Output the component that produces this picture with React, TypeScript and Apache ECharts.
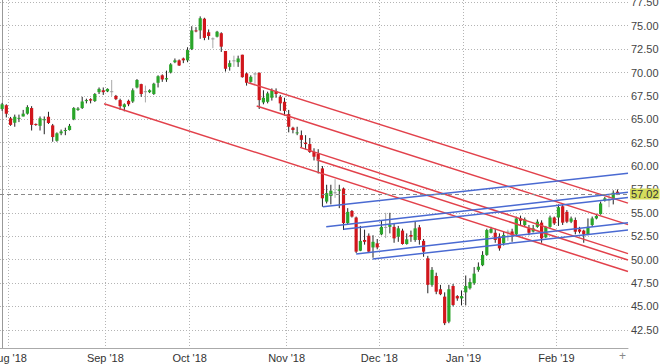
import React, { useEffect, useRef } from 'react';
import * as echarts from 'echarts';

// month labels for the x axis (first entry is the partial July period)
const monthLabels = ["Jul '18", "Aug '18", "Sep '18", "Oct '18", "Nov '18", "Dec '18", "Jan '19", "Feb '19"];

// daily candles per month: [open, close, low, high]
const jul18 = [
  [66.1, 66.6, 65.9, 66.75], [66.5, 65.6, 65.2, 66.6],
];
const aug18 = [
  [65.1, 64.4, 64.3, 65.25], [64.63, 65.27, 64.2, 65.5], [65.05, 65.15, 64.7, 65.5], [65.3, 65.6, 65.3, 66.0],
  [65.6, 66.3, 65.5, 66.5], [66.2, 64.4, 63.8, 66.4], [64.5, 64.4, 64.3, 64.55], [64.3, 65.1, 63.8, 65.3],
  [64.9, 65.0, 63.4, 65.3], [65.27, 64.6, 64.5, 65.8], [64.35, 63.1, 62.6, 64.5], [62.7, 63.5, 62.6, 63.6],
  [63.5, 63.7, 63.3, 63.9], [63.75, 63.85, 63.3, 64.1], [63.85, 64.3, 63.8, 64.5], [65.0, 66.2, 64.9, 66.3],
  [66.0, 66.15, 65.9, 66.3], [66.2, 66.9, 66.1, 67.4], [67.0, 67.05, 66.7, 67.2], [67.15, 67.0, 66.7, 67.25],
  [66.95, 67.7, 66.85, 67.8], [67.9, 68.25, 67.7, 68.4], [68.1, 67.9, 67.6, 68.4],
];
const sep18 = [
  [67.98, 68.25, 67.9, 68.3], [68.0, 68.0, 67.5, 69.2], [67.5, 67.15, 67.05, 67.6], [67.05, 66.4, 66.0, 67.2],
  [66.3, 66.6, 65.85, 66.7], [66.97, 66.6, 66.4, 67.1], [66.9, 68.1, 66.75, 68.3], [68.4, 69.2, 68.3, 69.3],
  [68.76, 67.7, 67.4, 68.8], [68.0, 68.0, 66.8, 68.6], [67.9, 68.1, 67.8, 68.2], [67.7, 68.8, 67.6, 68.9],
  [68.9, 69.6, 68.4, 69.7], [69.7, 69.26, 69.0, 69.8], [69.26, 69.4, 69.0, 70.2], [70.0, 70.87, 69.9, 71.0],
  [71.1, 71.3, 71.0, 71.5], [71.3, 70.75, 70.7, 71.4], [71.5, 71.3, 71.0, 71.6], [71.3, 72.4, 71.1, 72.7],
];
const oct18 = [
  [72.5, 74.5, 72.4, 74.95], [74.5, 74.45, 74.3, 74.85], [74.5, 75.8, 73.6, 76.0], [75.75, 73.7, 73.45, 75.85],
  [74.3, 73.9, 73.5, 74.6], [73.65, 73.65, 72.6, 73.75], [73.83, 74.36, 73.75, 74.45], [74.2, 72.76, 72.2, 74.3],
  [72.3, 70.4, 70.1, 72.3], [70.6, 71.0, 70.2, 71.3], [71.3, 71.3, 70.6, 71.8], [71.1, 71.5, 70.6, 71.8],
  [71.9, 69.5, 69.45, 71.9], [69.9, 68.9, 68.6, 70.0], [69.0, 69.54, 68.9, 69.7], [69.9, 69.9, 68.8, 70.0],
  [69.97, 67.05, 66.1, 70.0], [66.8, 67.3, 66.6, 68.1], [66.87, 67.77, 66.7, 67.95], [67.3, 68.1, 67.0, 68.3],
  [68.0, 67.7, 67.3, 68.3], [67.4, 66.7, 65.9, 67.6], [66.87, 65.9, 65.4, 67.3],
];
const nov18 = [
  [65.55, 64.2, 63.6, 66.0], [64.1, 63.85, 63.5, 64.2], [63.5, 63.6, 63.3, 64.2], [63.3, 62.8, 62.0, 63.8],
  [62.5, 62.35, 61.8, 63.3], [62.35, 61.5, 61.4, 63.0], [61.5, 61.0, 60.6, 61.9], [61.3, 60.7, 59.2, 61.8],
  [59.75, 56.55, 55.65, 60.0], [56.2, 57.1, 56.0, 58.0], [56.8, 57.36, 55.9, 58.0], [57.2, 57.2, 56.6, 58.6],
  [57.36, 57.5, 55.5, 58.0], [57.6, 53.9, 53.16, 57.7], [53.9, 55.1, 53.8, 55.5], [55.2, 54.6, 54.5, 55.3],
  [54.5, 50.85, 50.7, 54.6], [50.95, 52.0, 50.9, 53.6], [52.1, 51.9, 51.6, 53.2], [52.55, 50.85, 50.7, 52.8],
  [51.3, 51.9, 50.2, 52.6], [51.74, 51.3, 51.1, 52.2],
];
const dec18 = [
  [52.7, 53.5, 52.6, 54.2], [53.5, 53.5, 52.3, 55.0], [53.5, 53.7, 52.8, 55.0], [53.5, 52.27, 51.8, 53.9],
  [52.45, 53.34, 51.9, 53.6], [53.1, 51.67, 51.6, 53.3], [51.67, 52.17, 51.6, 52.8], [52.63, 52.45, 51.9, 53.1],
  [52.1, 53.34, 51.9, 54.1], [53.45, 52.1, 51.6, 53.7], [52.0, 50.85, 50.3, 52.2], [50.14, 47.3, 46.4, 50.4],
  [47.3, 48.9, 47.1, 49.2], [48.25, 46.57, 46.3, 48.6], [46.83, 46.3, 46.2, 47.3], [46.04, 43.2, 43.0, 46.5],
  [43.37, 46.83, 43.2, 47.3], [47.18, 45.15, 45.0, 47.4], [46.1, 45.85, 45.6, 46.2], [45.85, 46.1, 45.1, 46.7],
];
const jan19 = [
  [46.5, 47.18, 45.1, 48.3], [46.94, 47.6, 46.8, 48.0], [47.47, 48.5, 47.3, 49.2], [48.9, 49.24, 48.7, 49.7],
  [49.4, 50.5, 49.3, 50.9], [50.5, 53.16, 50.4, 53.3], [52.87, 53.27, 52.8, 53.5], [52.87, 52.1, 51.8, 53.3],
  [52.45, 51.2, 50.95, 52.8], [51.74, 52.63, 51.5, 53.0], [53.0, 53.0, 52.0, 53.2], [53.0, 52.63, 51.9, 53.3],
  [52.7, 54.4, 52.6, 54.6], [54.4, 54.15, 53.6, 54.7], [53.7, 54.3, 53.5, 54.5], [53.34, 52.87, 52.6, 53.7],
  [53.0, 53.34, 52.9, 53.7], [53.5, 54.05, 53.4, 54.3], [53.95, 52.27, 51.8, 54.2], [52.38, 53.5, 52.3, 53.6],
  [53.5, 54.5, 53.4, 54.7], [54.5, 53.87, 53.7, 54.6],
];
const feb19 = [
  [54.5, 55.6, 53.6, 55.9], [55.7, 53.95, 53.7, 55.9], [55.1, 54.05, 53.9, 55.3], [54.05, 54.4, 53.9, 54.6],
  [54.23, 52.98, 52.7, 54.5], [53.23, 52.98, 52.8, 53.5], [53.1, 52.7, 51.8, 53.2], [52.7, 53.5, 52.6, 54.4],
  [53.7, 54.4, 53.5, 54.6], [54.4, 54.66, 54.3, 54.9], [54.87, 56.0, 54.8, 56.2], [56.3, 56.55, 56.2, 56.7],
  [56.4, 56.4, 55.6, 57.0], [56.55, 57.15, 55.9, 57.4], [57.26, 57.02, 56.9, 57.5],
];
const months = [jul18, aug18, sep18, oct18, nov18, dec18, jan19, feb19];
const emptySlotsAfter = 2;

// y axis
const yTicks = [42.5, 45, 47.5, 50, 52.5, 55, 57.5, 60, 62.5, 65, 67.5, 70, 72.5, 75, 77.5];
const yMin = 40.55;
const yMax = 77.75;

// trend lines: [startIndex, startValue, endIndex, endValue]
const redLines = [
  [24.2, 66.65, 148.5, 48.72],
  [58.4, 68.91, 148.5, 56.04],
  [60.4, 66.42, 148.5, 53.74],
  [70.7, 62.0, 148.5, 50.64],
  [74.6, 60.68, 148.5, 49.95],
];
const blueLines = [
  [76.1, 55.65, 148.5, 59.23],
  [76.9, 53.52, 148.5, 57.2],
  [81.0, 53.24, 148.5, 56.63],
  [84.0, 50.6, 148.5, 53.95],
  [87.9, 50.06, 148.5, 53.17],
];

const FONT = "'Liberation Sans', Arial, sans-serif";

export default function App() {
  const ref = useRef<HTMLDivElement>(null);

  useEffect(() => {
    if (!ref.current) return;
    const chart = echarts.init(ref.current, null, { renderer: 'svg' });

    const candles: number[][] = [];
    const boundaries: number[] = [];
    const boundaryText: string[] = [];
    let idx = 0;
    months.forEach((m, mi) => {
      if (mi > 0) {
        boundaries.push(idx - 0.5);
        boundaryText.push(monthLabels[mi]);
      }
      m.forEach(([o, c, l, h]) => {
        candles.push([idx, o, c, l, h]);
        idx++;
      });
    });
    const xMin = -0.5;
    const xMax = idx - 1 + emptySlotsAfter + 0.5;
    const lastClose = candles[candles.length - 1][2];

    const gridLine = { show: true, lineStyle: { color: '#b4b4b4', type: [1, 2] as any, width: 1 } };

    const lineSeries = (arr: number[][], color: string) =>
      arr.map((l) => ({
        type: 'line',
        data: [[l[0], l[1]], [l[2], l[3]]],
        showSymbol: false,
        symbol: 'none',
        silent: true,
        clip: true,
        z: 5,
        lineStyle: { color, width: 1.5 },
      }));

    chart.setOption({
      animation: false,
      grid: { left: 0, right: 32, top: 0, bottom: 16, containLabel: false, outerBoundsMode: 'none' } as any,
      xAxis: {
        type: 'value',
        min: xMin,
        max: xMax,
        axisLine: { show: true, lineStyle: { color: '#aaaaaa' } },
        axisTick: { show: false, customValues: boundaries },
        axisLabel: {
          customValues: boundaries,
          formatter: (v: number) => {
            const k = boundaries.findIndex((b) => Math.abs(b - v) < 0.01);
            return k >= 0 ? boundaryText[k] : '';
          },
          color: '#333',
          fontSize: 11,
          fontFamily: FONT,
          margin: 4,
        },
        splitLine: gridLine,
      },
      yAxis: {
        type: 'value',
        position: 'right',
        min: yMin,
        max: yMax,
        axisLine: { show: true, lineStyle: { color: '#999999' } },
        axisTick: { show: false, customValues: yTicks },
        axisLabel: {
          customValues: yTicks,
          formatter: (v: number) => v.toFixed(2),
          color: '#444',
          fontSize: 11,
          fontFamily: FONT,
          margin: 3,
        },
        splitLine: gridLine,
      },
      series: [
        {
          type: 'custom',
          clip: true,
          z: 3,
          data: candles,
          encode: { x: 0, y: [1, 2, 3, 4] },
          renderItem: (params: any, api: any) => {
            const i = api.value(0);
            const o = api.value(1);
            const c = api.value(2);
            const l = api.value(3);
            const h = api.value(4);
            const pO = api.coord([i, o]);
            const pC = api.coord([i, c]);
            const pL = api.coord([i, l]);
            const pH = api.coord([i, h]);
            const doji = o === c;
            const up = c > o;
            const fill = doji ? '#9a9a9a' : up ? '#2aa52a' : '#d0161c';
            const wick = doji ? '#a8a8a8' : '#222222';
            const w = 3.2;
            const top = Math.min(pO[1], pC[1]);
            const bh = Math.max(Math.abs(pO[1] - pC[1]), 1);
            return {
              type: 'group',
              children: [
                {
                  type: 'line',
                  shape: { x1: pH[0], y1: pH[1], x2: pL[0], y2: pL[1] },
                  style: { stroke: wick, lineWidth: 1 },
                },
                {
                  type: 'rect',
                  shape: { x: pO[0] - w / 2, y: top, width: w, height: bh },
                  style: { fill, stroke: null },
                },
              ],
            };
          },
          markLine: {
            silent: true,
            symbol: 'none',
            z: 10,
            lineStyle: { color: '#8a8a8a', width: 1, type: [4, 3] },
            data: [{ yAxis: lastClose }],
            label: {
              show: true,
              position: 'end',
              distance: 2,
              formatter: () => lastClose.toFixed(2),
              backgroundColor: '#d5dc5c',
              color: '#333',
              fontSize: 11,
              fontFamily: FONT,
              lineHeight: 11,
              padding: [0, 1, 0, 1],
              borderRadius: 1,
            },
          },
        },
        ...lineSeries(redLines, '#e2414b'),
        ...lineSeries(blueLines, '#4a6ad2'),
      ],
      graphic: [
        {
          type: 'text',
          left: 619,
          top: 350,
          style: { text: '+', fill: '#888', fontSize: 12, fontFamily: FONT },
        },
      ],
    } as any);

    return () => chart.dispose();
  }, []);

  return <div ref={ref} style={{ position: 'absolute', left: 0, top: 0, width: 660, height: 364 }} />;
}
